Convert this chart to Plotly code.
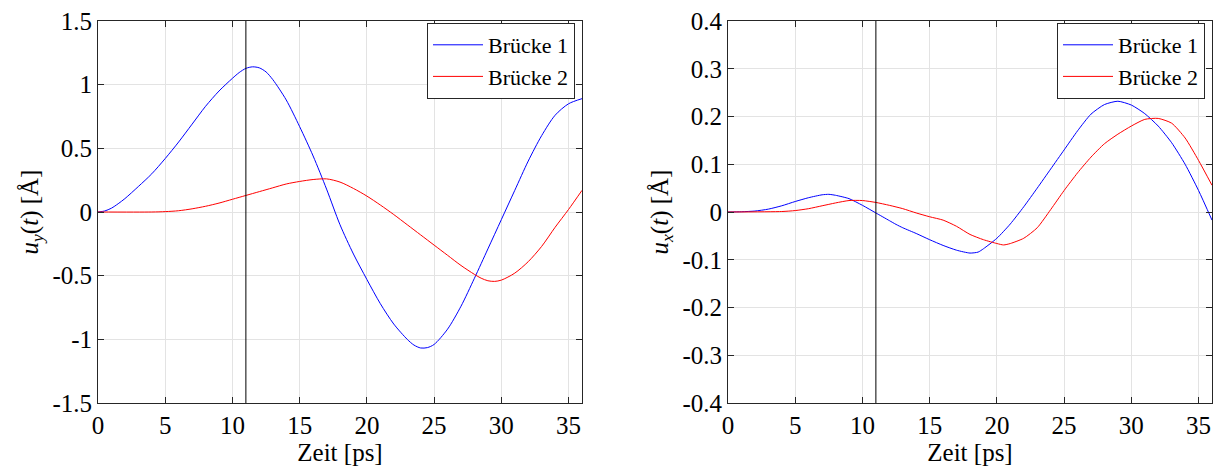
import plotly.graph_objects as go

# ---- data ----
t_l_b1 = [0, 0.5, 1, 1.5, 2, 3, 4, 5, 6, 7, 8, 9, 10, 10.5, 11, 11.5, 12, 12.5, 13, 14, 15,
          16, 17, 18, 19, 20, 21, 22, 23, 23.5, 24, 24.5, 25, 26, 27, 28, 29, 30, 31, 32, 33,
          34, 35, 36]
uy_b1 = [0, 0.008, 0.03, 0.065, 0.105, 0.2, 0.3, 0.42, 0.55, 0.69, 0.83, 0.95, 1.05, 1.095,
         1.128, 1.14, 1.132, 1.1, 1.04, 0.88, 0.67, 0.44, 0.18, -0.1, -0.33, -0.53, -0.72,
         -0.88, -1.0, -1.045, -1.068, -1.065, -1.04, -0.92, -0.74, -0.52, -0.29, -0.06, 0.17,
         0.4, 0.6, 0.76, 0.85, 0.89]

t_l_b2 = [0, 4, 5, 6, 7, 8, 9, 10, 11, 12, 13, 14, 15, 16, 17, 18, 19, 20, 21, 22, 23, 24,
          25, 26, 27, 28, 28.5, 29, 29.5, 30, 31, 32, 33, 34, 35, 36]
uy_b2 = [0, 0, 0.003, 0.01, 0.025, 0.045, 0.07, 0.1, 0.13, 0.16, 0.19, 0.22, 0.24, 0.255,
         0.26, 0.235, 0.185, 0.125, 0.055, -0.02, -0.1, -0.18, -0.26, -0.34, -0.42, -0.49,
         -0.52, -0.54, -0.545, -0.535, -0.48, -0.39, -0.27, -0.12, 0.02, 0.17]

t_r_b1 = [0, 1, 2, 3, 4, 5, 6, 7, 7.5, 8, 9, 10, 11, 12, 12.5, 13, 14, 15, 16, 17, 18, 18.6,
          19, 20, 21, 22, 23, 24, 25, 26, 27, 28, 29, 30, 31, 32, 33, 34, 35, 36]
ux_b1 = [0, 0.0005, 0.002, 0.006, 0.013, 0.022, 0.03, 0.036, 0.037, 0.035, 0.028, 0.014,
         -0.002, -0.018, -0.026, -0.033, -0.045, -0.058, -0.07, -0.08, -0.086, -0.084, -0.077,
         -0.055, -0.025, 0.011, 0.05, 0.09, 0.13, 0.17, 0.205, 0.225, 0.232, 0.224, 0.206,
         0.18, 0.145, 0.1, 0.045, -0.017]

t_r_b2 = [0, 4, 5, 6, 7, 8, 9, 10, 11, 12, 13, 14, 15, 16, 17, 18, 19, 20, 20.5, 21, 22, 23,
          24, 25, 26, 27, 28, 29, 30, 31, 32, 33, 34, 35, 36]
ux_b2 = [0, 0.001, 0.003, 0.007, 0.013, 0.019, 0.024, 0.024, 0.02, 0.014, 0.007, -0.002,
         -0.01, -0.017, -0.03, -0.047, -0.058, -0.066, -0.069, -0.066, -0.055, -0.033, 0.005,
         0.045, 0.082, 0.115, 0.143, 0.163, 0.18, 0.194, 0.196, 0.186, 0.155, 0.108, 0.056]

t_marker = 11
series_names = ["Brücke 1", "Brücke 2"]
x_ticks = [0, 5, 10, 15, 20, 25, 30, 35]
yl_ticks = [-1.5, -1, -0.5, 0, 0.5, 1, 1.5]
yl_text = ["-1.5", "-1", "-0.5", "0", "0.5", "1", "1.5"]
yr_ticks = [-0.4, -0.3, -0.2, -0.1, 0, 0.1, 0.2, 0.3, 0.4]
yr_text = ["-0.4", "-0.3", "-0.2", "-0.1", "0", "0.1", "0.2", "0.3", "0.4"]

FONT = "Liberation Serif, DejaVu Serif, Times New Roman, serif"
W, H = 1219, 472
BLUE, RED = "#0000ff", "#ff0000"

fig = go.Figure()
fig.add_trace(go.Scatter(x=t_l_b1, y=uy_b1, mode="lines", name=series_names[0],
                         line=dict(color=BLUE, width=1, shape="spline", smoothing=0.8),
                         xaxis="x", yaxis="y", legend="legend"))
fig.add_trace(go.Scatter(x=t_l_b2, y=uy_b2, mode="lines", name=series_names[1],
                         line=dict(color=RED, width=1, shape="spline", smoothing=0.8),
                         xaxis="x", yaxis="y", legend="legend"))
fig.add_trace(go.Scatter(x=t_r_b1, y=ux_b1, mode="lines", name=series_names[0],
                         line=dict(color=BLUE, width=1, shape="spline", smoothing=0.6),
                         xaxis="x2", yaxis="y2", legend="legend2"))
fig.add_trace(go.Scatter(x=t_r_b2, y=ux_b2, mode="lines", name=series_names[1],
                         line=dict(color=RED, width=1, shape="spline", smoothing=0.6),
                         xaxis="x2", yaxis="y2", legend="legend2"))

for xr in ["x", "x2"]:
    fig.add_shape(type="line", xref=xr, yref=("y domain" if xr == "x" else "y2 domain"),
                  x0=t_marker, x1=t_marker, y0=0, y1=1, line=dict(color="black", width=1))

ydom = [1 - 403 / H, 1 - 21 / H]
axis_common = dict(showline=True, linecolor="#262626", linewidth=1, mirror="ticks",
                   ticks="inside", ticklen=6, tickcolor="#262626", showgrid=True,
                   gridcolor="#e3e3e3", gridwidth=1, zeroline=False, automargin=False,
                   tickfont=dict(family=FONT, size=25, color="black"))

leg_common = dict(xanchor="right", yanchor="top", bgcolor="white", bordercolor="#262626",
                  borderwidth=1, font=dict(family=FONT, size=22), tracegroupgap=0,
                  itemwidth=50)

fig.update_layout(
    width=W, height=H,
    margin=dict(l=0, r=0, t=0, b=0),
    paper_bgcolor="white", plot_bgcolor="white",
    font=dict(family=FONT, size=25, color="black"),
    xaxis=dict(domain=[98 / W, 582 / W], range=[0, 36], tickvals=x_ticks,
               title=dict(text="Zeit [ps]", standoff=2, font=dict(family=FONT, size=25)),
               anchor="y", **axis_common),
    yaxis=dict(domain=ydom, range=[-1.5, 1.5], tickvals=yl_ticks, ticktext=yl_text,
               title=dict(text="<i>u<sub>y</sub></i>(<i>t</i>) [Å]", standoff=6,
                          font=dict(family=FONT, size=25)),
               anchor="x", **axis_common),
    xaxis2=dict(domain=[728 / W, 1212 / W], range=[0, 36], tickvals=x_ticks,
                title=dict(text="Zeit [ps]", standoff=2, font=dict(family=FONT, size=25)),
                anchor="y2", **axis_common),
    yaxis2=dict(domain=ydom, range=[-0.4, 0.4], tickvals=yr_ticks, ticktext=yr_text,
                title=dict(text="<i>u<sub>x</sub></i>(<i>t</i>) [Å]", standoff=6,
                           font=dict(family=FONT, size=25)),
                anchor="x2", **axis_common),
    legend=dict(x=575 / W, y=1 - 23 / H, **leg_common),
    legend2=dict(x=1205 / W, y=1 - 23 / H, **leg_common),
)

fig.write_html("out.html")
